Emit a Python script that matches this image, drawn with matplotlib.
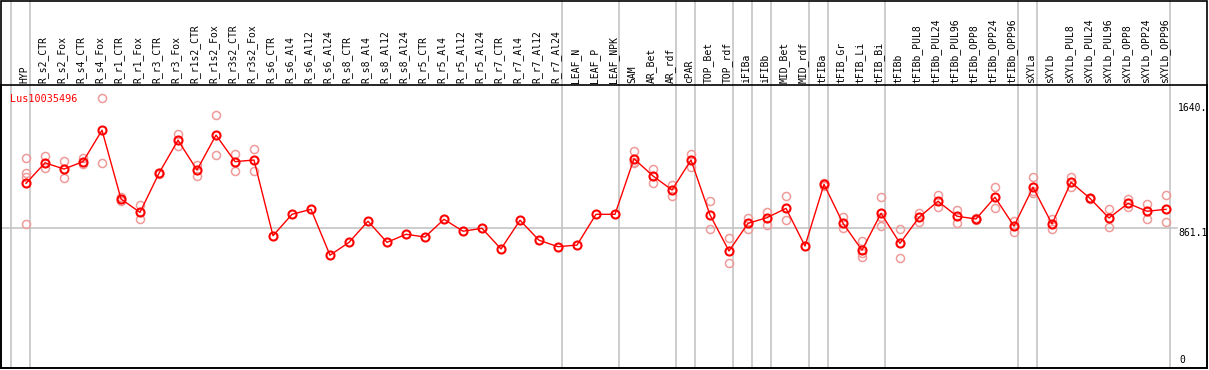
import matplotlib
matplotlib.use('Agg')
import matplotlib.pyplot as plt
from matplotlib.lines import Line2D
from matplotlib.patches import Rectangle
from matplotlib.transforms import blended_transform_factory

gene = "Lus10035496"

labels = ["HYP", "R_s2_CTR", "R_s2_Fox", "R_s4_CTR", "R_s4_Fox", "R_r1_CTR", "R_r1_Fox",
          "R_r3_CTR", "R_r3_Fox", "R_r1s2_CTR", "R_r1s2_Fox", "R_r3s2_CTR", "R_r3s2_Fox",
          "R_s6_CTR", "R_s6_Al4", "R_s6_Al12", "R_s6_Al24", "R_s8_CTR", "R_s8_Al4",
          "R_s8_Al12", "R_s8_Al24", "R_r5_CTR", "R_r5_Al4", "R_r5_Al12", "R_r5_Al24",
          "R_r7_CTR", "R_r7_Al4", "R_r7_Al12", "R_r7_Al24", "LEAF_N", "LEAF_P", "LEAF_NPK",
          "SAM", "AR_Bet", "AR_rdf", "cPAR", "TOP_Bet", "TOP_rdf", "iFIBa", "iFIBb",
          "MID_Bet", "MID_rdf", "tFIBa", "tFIB_Gr", "tFIB_Li", "tFIB_Bi", "tFIBb",
          "tFIBb_PUL8", "tFIBb_PUL24", "tFIBb_PUL96", "tFIBb_OPP8", "tFIBb_OPP24",
          "tFIBb_OPP96", "sXYLa", "sXYLb", "sXYLb_PUL8", "sXYLb_PUL24", "sXYLb_PUL96",
          "sXYLb_OPP8", "sXYLb_OPP24", "sXYLb_OPP96"]

means = [1140, 1268, 1229, 1275, 1470, 1043, 960, 1203, 1408, 1223, 1440, 1275, 1285,
         815, 948, 979, 694, 774, 905, 774, 824, 807, 917, 843, 861, 733, 911, 787, 747,
         757, 948, 948,
         1293, 1186, 1099, 1285, 944, 720, 892, 927, 985, 751, 1134, 892, 725, 954, 768,
         929, 1029, 936, 919, 1054, 875, 1116, 888, 1147, 1047, 925, 1016, 967, 979]

replicates = [
    [1296, 1206, 1182, 886], [1310, 1234], [1279, 1172], [1296, 1260], [1668, 1265],
    [1057, 1029], [1006, 917], [1206, 1198], [1447, 1374], [1254, 1186], [1565, 1316],
    [1322, 1217], [1352, 1219],
    [], [], [], [], [], [], [], [], [], [], [], [], [], [], [], [], [], [], [],
    [1341, 1268, 1270], [1227, 1141], [1128, 1062], [1322, 1244], [1029, 855],
    [799, 644], [923, 857], [962, 882], [1060, 911], [], [1144, 1125], [933, 861],
    [780, 706, 681], [1055, 875, 932], [855, 675],
    [958, 902], [1068, 992], [975, 896], [927, 911], [1119, 985], [908, 836],
    [1178, 1078, 1090], [917, 857], [1178, 1116], [1050, 1045], [979, 871],
    [1041, 995], [1012, 921], [1066, 898]]

separators_after = [-1, 0, 28, 31, 34, 35, 37, 38, 39, 41, 42, 45, 52, 53, 60]
ref_value = 861.1
tick_values = [1640, 861.1, 0]
tick_texts = ["1640.", "861.1", "0"]

W, H = 1209, 370
fig = plt.figure(figsize=(W / 100, H / 100), dpi=100)
top_px, bot_px, left_px, right_px = 85, 368, 1, 1207
ax = fig.add_axes([left_px / W, (H - bot_px) / H, (right_px - left_px) / W, (bot_px - top_px) / H])
ax.set_xlim(-1.316, 62.158)
ax.set_ylim(-6.2, 1750.8)
ax.set_xticks([])
ax.set_yticks([])
for s in ax.spines.values():
    s.set_color('black')
    s.set_linewidth(1.2)

mono = 'DejaVu Sans Mono'
fs = 7
ext = (bot_px - 0.5) / (bot_px - top_px)

# separators
for k in separators_after:
    ax.axvline(k + 0.2, ymin=0, ymax=ext, color='#c0c0c0', lw=1.1, clip_on=False, zorder=1)

# reference line
ax.plot([-1.316, 60.58], [ref_value, ref_value], color='#c0c0c0', lw=1.1, zorder=1)

# frame around the whole figure
fig.add_artist(Rectangle((left_px / W, (H - bot_px) / H), (right_px - left_px - 0.5) / W,
                         (bot_px - 0.7) / H, fill=False, edgecolor='black', lw=1.2,
                         transform=fig.transFigure))

# replicates
xs, ys = [], []
for i, reps in enumerate(replicates):
    for v in reps:
        xs.append(i)
        ys.append(v)
ax.plot(xs, ys, linestyle='none', marker='o', markersize=5.8, markerfacecolor='none',
        markeredgecolor='#f09a9a', markeredgewidth=1.1, zorder=2)

# means
xi = list(range(len(means)))
ax.plot(xi, means, color='#ff0000', lw=1.0, zorder=3)
ax.plot(xi, means, linestyle='none', marker='o', markersize=5.8, markerfacecolor='none',
        markeredgecolor='#ff0000', markeredgewidth=1.5, zorder=4)

# column labels
tr = blended_transform_factory(ax.transData, ax.transAxes)
lab_y = (bot_px - 83) / (bot_px - top_px)
for i, lab in enumerate(labels):
    ax.text(i - 0.1, lab_y, lab, rotation=90, ha='center', va='bottom', fontsize=fs,
            family=mono, transform=tr, clip_on=False)

# gene name
ax.text(-0.85, 1665, gene, color='#ff0000', fontsize=fs + 0.3, family=mono, ha='left', va='center')

# value labels
xl = (1178 - 26) / 19
ax.text(xl, tick_values[0], tick_texts[0], fontsize=fs, family=mono, ha='left', va='top')
ax.text(xl, tick_values[1], tick_texts[1], fontsize=fs, family=mono, ha='left', va='top')
ax.text(xl + 0.05, tick_values[2] + 12, tick_texts[2], fontsize=fs, family=mono, ha='left', va='bottom')

fig.savefig('out.png', dpi=100)
